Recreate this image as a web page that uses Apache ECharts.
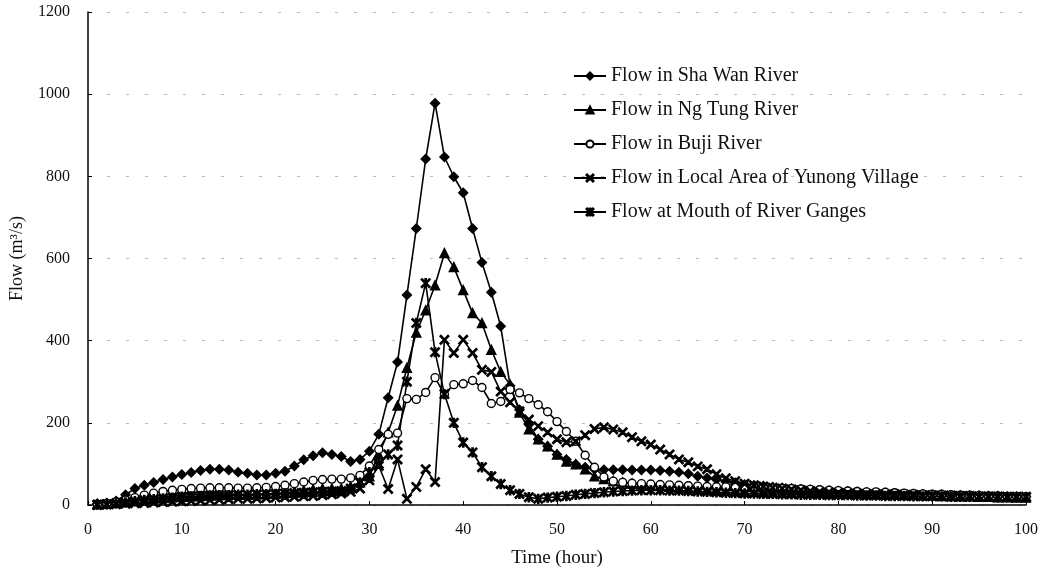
<!DOCTYPE html>
<html>
<head>
<meta charset="utf-8">
<script src="https://cdn.jsdelivr.net/npm/echarts@6/dist/echarts.min.js"></script>
<style>
  html, body { margin: 0; padding: 0; background: #fff; }
  #chart { width: 1045px; height: 573px; }
</style>
</head>
<body>
<div id="chart"></div>
<script>
// time in hours
var hours = [1,2,3,4,5,6,7,8,9,10,11,12,13,14,15,16,17,18,19,20,
  21,22,23,24,25,26,27,28,29,30,31,32,33,34,35,36,37,38,39,40,
  41,42,43,44,45,46,47,48,49,50,51,52,53,54,55,56,57,58,59,60,
  61,62,63,64,65,66,67,68,69,70,71,72,73,74,75,76,77,78,79,80,
  81,82,83,84,85,86,87,88,89,90,91,92,93,94,95,96,97,98,99,100];

var shaWan = [3,5,10,25,40,48,55,62,68,74,79,84,87,87,85,80,77,73,73,77,
  82,95,110,120,127,123,118,106,111,131,172,261,348,511,673,842,978,847,799,760,
  673,590,518,435,290,232,196,160,143,123,111,99,92,87,86,86,86,85,85,85,
  84,82,80,76,70,66,62,58,54,50,48,46,44,42,40,38,37,36,35,34,
  33,32,31,30,29,28,27,26,26,25,25,24,24,23,23,22,22,21,21,20];

var ngTung = [2,3,5,8,12,15,18,20,22,24,25,26,27,27,27,26,26,26,27,28,
  30,33,36,38,40,40,40,45,55,70,123,177,242,334,420,474,535,613,579,523,
  467,443,378,324,293,225,184,160,143,123,106,99,87,70,63,58,55,52,50,48,
  46,44,42,41,40,38,37,36,35,34,33,32,31,31,30,30,29,29,28,28,
  27,27,26,26,25,25,24,24,23,23,22,22,21,21,20,20,19,19,18,18];

var buji = [2,4,8,12,18,24,29,33,36,38,40,41,42,42,42,41,41,42,43,45,
  48,52,56,60,62,63,63,66,72,95,135,172,175,259,257,274,310,269,293,295,
  303,286,247,252,281,273,259,244,227,203,179,155,121,92,68,58,55,53,52,51,
  50,49,48,47,46,45,44,44,43,43,42,42,41,40,40,39,38,37,36,35,
  34,33,32,32,31,30,29,28,27,26,26,25,24,24,23,22,22,21,21,20];

var yunong = [0,1,2,3,4,5,6,7,8,9,10,11,12,13,14,15,15,16,17,18,
  19,20,21,22,24,26,28,32,40,60,95,39,111,15,44,87,56,402,370,402,
  370,329,324,276,250,228,208,192,177,160,153,155,170,185,189,184,177,165,155,147,
  135,123,111,104,94,87,75,65,58,52,48,45,42,40,38,36,34,32,31,30,
  29,28,27,27,26,26,25,25,24,24,23,23,22,22,21,21,21,20,20,20];

var ganges = [1,2,4,6,9,12,14,16,18,20,21,22,23,24,24,25,25,26,26,27,
  28,29,30,31,32,33,34,40,55,80,100,123,145,300,443,540,372,270,200,152,
  128,92,70,51,36,27,19,15,18,20,22,25,27,29,31,33,34,35,36,36,
  36,35,35,34,33,32,31,30,29,28,28,27,27,26,26,25,25,25,24,24,
  24,23,23,23,22,22,22,21,21,21,21,20,20,20,20,20,19,19,19,19];

var seriesNames = [
  'Flow in Sha Wan River',
  'Flow in Ng Tung River',
  'Flow in Buji River',
  'Flow in Local Area of Yunong Village',
  'Flow at Mouth of River Ganges'
];

var crossPath = 'path://M1,0 L5,4 L9,0 L10,1 L6,5 L10,9 L9,10 L5,6 L1,10 L0,9 L4,5 L0,1 Z';
var starPath = 'path://M1,0 L5,4 L9,0 L10,1 L6,5 L10,9 L9,10 L5,6 L1,10 L0,9 L4,5 L0,1 Z M4.3,0 L5.7,0 L5.7,10 L4.3,10 Z';

function pairs(vals) {
  return hours.map(function (h, i) { return [h, vals[i]]; });
}

function makeSeries(name, vals, symbol, size, fill) {
  return {
    name: name,
    type: 'line',
    data: pairs(vals),
    symbol: symbol,
    symbolSize: size,
    showAllSymbol: true,
    lineStyle: { color: '#000', width: 1.6 },
    itemStyle: { color: fill, borderColor: '#000', borderWidth: 1.4 },
    emphasis: { disabled: true },
    animation: false
  };
}

var chart = echarts.init(document.getElementById('chart'));
var font = 'Liberation Serif';

var option = {
  backgroundColor: '#fff',
  textStyle: { fontFamily: font },
  grid: { left: 88, right: 19, top: 12, bottom: 67 },
  legend: {
    orient: 'vertical',
    left: 568,
    top: 61,
    itemGap: 14,
    itemWidth: 32,
    itemHeight: 9,
    textStyle: { fontFamily: font, fontSize: 20, color: '#111' },
    data: seriesNames
  },
  xAxis: {
    type: 'value',
    min: 0,
    max: 100,
    interval: 10,
    name: 'Time (hour)',
    nameLocation: 'middle',
    nameGap: 44,
    nameTextStyle: { fontFamily: font, fontSize: 19, color: '#111' },
    axisLine: { lineStyle: { color: '#000', width: 1.5 } },
    axisTick: { inside: true, length: 4, lineStyle: { color: '#000' } },
    axisLabel: { fontFamily: font, fontSize: 16, color: '#111', margin: 17 },
    splitLine: { show: false }
  },
  yAxis: {
    type: 'value',
    min: 0,
    max: 1200,
    interval: 200,
    name: 'Flow (m\u00b3/s)',
    nameLocation: 'middle',
    nameGap: 62,
    nameTextStyle: { fontFamily: font, fontSize: 18, color: '#111' },
    axisLine: { show: true, lineStyle: { color: '#000', width: 1.5 } },
    axisTick: { show: true, inside: true, length: 4, lineStyle: { color: '#000' } },
    axisLabel: { fontFamily: font, fontSize: 16, color: '#111', margin: 18,
      formatter: function (v) { return String(v); } },
    splitLine: { show: true, lineStyle: { color: '#bbb', width: 1, type: [3, 16] } }
  },
  series: [
    makeSeries(seriesNames[0], shaWan, 'diamond', 9, '#000'),
    makeSeries(seriesNames[1], ngTung, 'triangle', 9, '#000'),
    makeSeries(seriesNames[2], buji, 'circle', 8, '#fff'),
    makeSeries(seriesNames[3], yunong, crossPath, 9, '#000'),
    makeSeries(seriesNames[4], ganges, starPath, 9, '#000')
  ]
};

chart.setOption(option);
</script>
</body>
</html>
